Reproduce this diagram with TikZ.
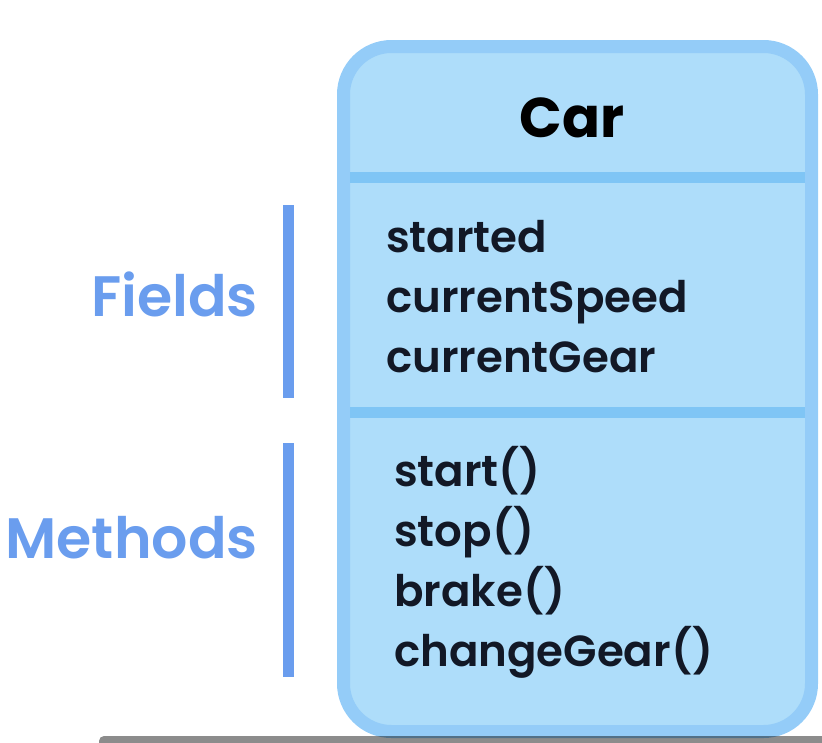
\documentclass[tikz,border=0pt]{standalone}
\usepackage{fontspec}
\setmainfont{Poppins}[BoldFont={Poppins SemiBold}]
\newfontfamily\carfont{Poppins Bold}
\definecolor{boxfill}{HTML}{AEDDFA}
\definecolor{boxborder}{HTML}{94CCF8}
\definecolor{sepcol}{HTML}{7FC5F5}
\definecolor{labelblue}{HTML}{6A9DEE}
\definecolor{txt}{HTML}{121826}
\tikzset{
  member/.style={anchor=base west, inner sep=0pt, font=\fontsize{43.5}{43.5}\selectfont\bfseries, text=txt},
  sidelabel/.style={anchor=base east, inner sep=0pt, font=\fontsize{57}{57}\selectfont\bfseries, text=labelblue},
  sidebar/.style={line width=11pt, draw=labelblue},
}
\begin{document}
\begin{tikzpicture}[x=1pt,y=-1pt]
\useasboundingbox (0,0) rectangle (822,742);
\begin{scope}
\clip (0,0) rectangle (822,742);
\draw[boxborder, fill=boxfill, line width=13pt, rounded corners=48pt]
  (343.5,46.5) rectangle (811.5,731.5);
\end{scope}
\coordinate (s1l) at (350,177);
\coordinate (s1r) at (805,177);
\coordinate (s2l) at (350,412);
\coordinate (s2r) at (805,412);
\draw[sepcol, line width=11pt] (s1l) -- (s1r);
\draw[sepcol, line width=11pt] (s2l) -- (s2r);
\node[anchor=base, inner sep=0pt, font=\fontsize{56}{56}\selectfont\carfont, text=black] (car) at (572,137) {Car};
\node[member] (f1) at (386,252) {started};
\node[member] (f2) at (386,312) {currentSpeed};
\node[member] (f3) at (386,372) {currentGear};
\node[member] (m1) at (394,486) {start()};
\node[member] (m2) at (394,546) {stop()};
\node[member] (m3) at (394,606) {brake()};
\node[member] (m4) at (394,666) {changeGear()};
\node[sidelabel] (fields) at (258,316) {Fields};
\node[sidelabel] (methods) at (258,558) {Methods};
\coordinate (b1t) at (288.5,205);
\coordinate (b1b) at (288.5,398);
\coordinate (b2t) at (288.5,443);
\coordinate (b2b) at (288.5,677);
\draw[sidebar] (b1t) -- (b1b);
\draw[sidebar] (b2t) -- (b2b);
\fill[black, opacity=0.45, rounded corners=5pt] (99,736) rectangle (830,750);
\end{tikzpicture}
\end{document}
